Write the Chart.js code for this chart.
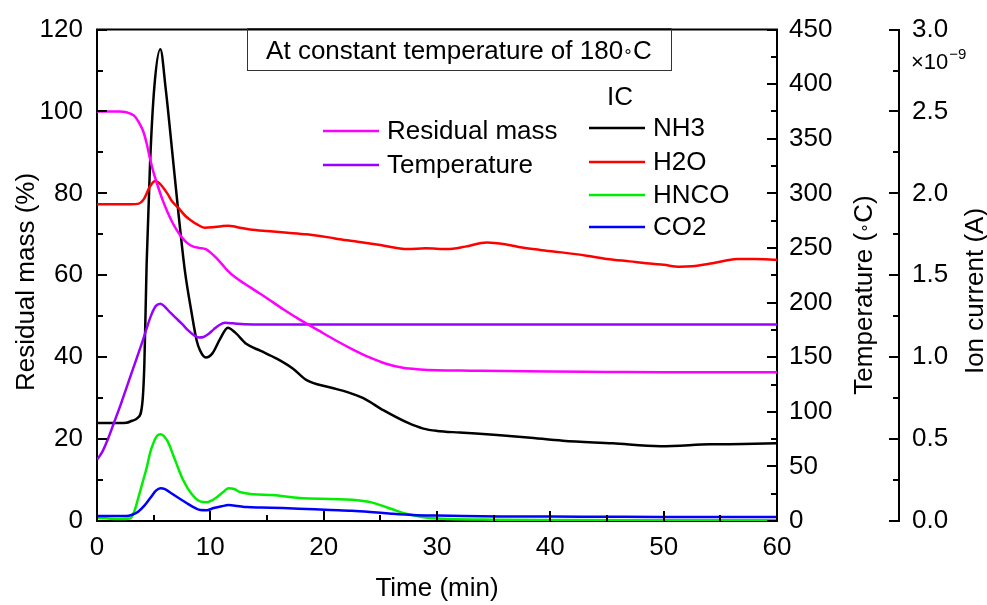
<!DOCTYPE html>
<html>
<head>
<meta charset="utf-8">
<script src="https://cdn.jsdelivr.net/npm/chart.js@4/dist/chart.umd.min.js"></script>
<style>
html,body{margin:0;padding:0;background:#fff;}
#wrap{width:987px;height:605px;}
</style>
</head>
<body>
<div id="wrap"><canvas id="c" width="987" height="605"></canvas></div>
<script>
// ---------------- data ----------------
const massTime = [0, 1, 2, 2.5, 3.0, 3.4, 3.8, 4.1, 4.4, 4.7, 5.0, 5.4, 5.8, 6.2, 6.6, 7.0, 7.5, 8.0, 8.5, 9.0, 9.6, 10.0, 10.5, 11.0, 11.5, 12.2, 13.0, 14.0, 15.0, 16.5, 18, 19.5, 21, 22.5, 24, 25.5, 27, 28.5, 30, 33, 36, 40, 45, 50, 55, 60];
const massValues = [100, 100, 100, 99.9, 99.4, 98.6, 96.8, 95, 92, 88.2, 85, 81.5, 78.3, 75.6, 73.2, 71.2, 69.2, 67.8, 67.0, 66.7, 66.4, 65.6, 64.3, 62.8, 61.2, 59.5, 58, 56.2, 54.4, 51.6, 49, 46.6, 44.2, 42, 40, 38.4, 37.4, 37, 36.8, 36.7, 36.6, 36.5, 36.4, 36.3, 36.3, 36.3];

const tempTime = [0, 0.5, 1.0, 1.5, 2.0, 2.5, 3.0, 3.5, 4.0, 4.4, 4.8, 5.2, 5.6, 6.0, 6.5, 7.0, 7.5, 8.0, 8.5, 9.0, 9.4, 9.8, 10.3, 10.8, 11.3, 12.0, 13.0, 15, 20, 30, 40, 50, 60];
const tempValues = [56, 64, 76, 90, 104, 119, 134, 149, 164, 177, 189, 197, 199, 196, 190.5, 185.5, 180.5, 175, 170.5, 168, 168.5, 171, 175.5, 179.5, 181.5, 181, 180.2, 180, 180, 180, 180, 180, 180];

const nh3Time = [0, 1, 2, 2.6, 3.1, 3.6, 4.0, 4.18, 4.38, 4.68, 5.06, 5.59, 6.06, 6.6, 7.2, 7.75, 8.35, 8.8, 9.1, 9.6, 10.2, 10.85, 11.55, 12.2, 13.2, 14.4, 15.9, 17.3, 18.5, 20.6, 22.1, 23.5, 25.3, 27.4, 28.8, 30, 32, 35.3, 38, 41.1, 45.5, 49.7, 54.1, 57, 60];
const nh3Values = [0.598, 0.598, 0.598, 0.6, 0.612, 0.63, 0.72, 0.96, 1.57, 2.18, 2.65, 2.88, 2.64, 2.28, 1.87, 1.53, 1.27, 1.1, 1.04, 0.998, 1.025, 1.11, 1.18, 1.15, 1.08, 1.04, 0.99, 0.93, 0.86, 0.815, 0.787, 0.75, 0.675, 0.6, 0.564, 0.55, 0.54, 0.525, 0.51, 0.49, 0.474, 0.457, 0.468, 0.47, 0.474];

const h2oTime = [0, 1, 2, 3, 3.6, 4.1, 4.7, 5.15, 5.6, 6.2, 6.6, 7.2, 7.8, 8.3, 8.8, 9.5, 10.2, 11.0, 11.6, 12.0, 12.6, 13.5, 15, 16.8, 18.5, 20.6, 21.4, 23, 25, 27.4, 29, 30.9, 32.5, 34.4, 36, 37.5, 39.1, 41, 43.2, 45, 47, 49, 50, 51.4, 52.5, 54, 55.5, 56.5, 58, 60];
const h2oValues = [1.934, 1.934, 1.934, 1.934, 1.936, 1.962, 2.045, 2.075, 2.055, 2.0, 1.954, 1.91, 1.862, 1.835, 1.812, 1.79, 1.793, 1.80, 1.803, 1.80, 1.79, 1.78, 1.77, 1.76, 1.75, 1.73, 1.72, 1.705, 1.685, 1.66, 1.665, 1.66, 1.675, 1.70, 1.69, 1.67, 1.655, 1.64, 1.62, 1.60, 1.585, 1.57, 1.564, 1.552, 1.555, 1.57, 1.59, 1.60, 1.60, 1.595];

const hncoTime = [0, 1, 2, 2.9, 3.3, 3.6, 4.0, 4.4, 4.7, 5.0, 5.3, 5.6, 6.2, 6.9, 7.6, 8.3, 9.1, 9.7, 10.2, 10.6, 11.1, 11.6, 12.1, 12.6, 13.8, 15.5, 17.9, 20.6, 22.5, 23.5, 24.3, 25, 26, 27, 28.2, 29.4, 31, 35, 40, 50, 60];
const hncoValues = [0.02, 0.015, 0.012, 0.015, 0.06, 0.13, 0.23, 0.33, 0.42, 0.48, 0.52, 0.53, 0.49, 0.37, 0.25, 0.17, 0.12, 0.115, 0.128, 0.146, 0.175, 0.2, 0.195, 0.177, 0.164, 0.158, 0.14, 0.134, 0.13, 0.122, 0.112, 0.097, 0.073, 0.049, 0.03, 0.018, 0.012, 0.008, 0.006, 0.005, 0.005];

const co2Time = [0, 1, 2, 2.6, 3.1, 3.6, 4.2, 4.7, 5.2, 5.6, 6.0, 6.4, 7.1, 7.9, 8.5, 9.1, 9.7, 10.3, 11.0, 11.6, 12.4, 13.2, 14.5, 16.4, 18.5, 20.6, 22.5, 24.1, 26, 27.9, 30, 32.3, 36, 40, 45, 50, 55, 60];
const co2Values = [0.03, 0.03, 0.03, 0.03, 0.038, 0.055, 0.095, 0.14, 0.185, 0.2, 0.195, 0.177, 0.145, 0.11, 0.085, 0.067, 0.066, 0.079, 0.09, 0.097, 0.092, 0.085, 0.082, 0.079, 0.073, 0.067, 0.062, 0.055, 0.045, 0.037, 0.033, 0.03, 0.028, 0.027, 0.026, 0.025, 0.025, 0.024];

const xTickValues = [0, 10, 20, 30, 40, 50, 60];
const massTickValues = [0, 20, 40, 60, 80, 100, 120];
const tempTickValues = [0, 50, 100, 150, 200, 250, 300, 350, 400, 450];
const ionTickLabels = ['0.0', '0.5', '1.0', '1.5', '2.0', '2.5', '3.0'];

const seriesNames = ['Residual mass', 'Temperature', 'NH3', 'H2O', 'HNCO', 'CO2'];
const seriesColors = ['#ff00ff', '#9900ff', '#000000', '#ff0000', '#00ee00', '#0000ff'];
const titleParts = ['At constant temperature of 180', '\u2218', 'C'];
const tempTitleParts = ['Temperature (', '\u2218', 'C)'];

// ---------------- helpers ----------------
const pts = (t, v) => t.map((x, i) => ({x: x, y: v[i]}));
const FONT = "'Liberation Sans', Arial, sans-serif";
Chart.defaults.font.family = FONT;
Chart.defaults.color = '#000';

const mkSet = (i, t, v, axis) => ({
  label: seriesNames[i], data: pts(t, v), yAxisID: axis,
  borderColor: seriesColors[i], backgroundColor: seriesColors[i],
  borderWidth: 2.5, pointRadius: 0, fill: false,
  cubicInterpolationMode: 'monotone'
});

// text made of pieces: main text + small ring (degree) + rest, centred on (0,0) in current transform
function drawDegreeText(ctx, parts, size) {
  const big = size + 'px ' + FONT, small = Math.round(size * 0.62) + 'px ' + FONT;
  ctx.font = big; const w0 = ctx.measureText(parts[0]).width; const w2 = ctx.measureText(parts[2]).width;
  ctx.font = small; const w1 = ctx.measureText(parts[1]).width;
  const total = w0 + w1 + w2;
  let x = -total / 2;
  const base = size * 0.36; // alphabetic baseline relative to visual middle
  ctx.textAlign = 'left'; ctx.textBaseline = 'alphabetic';
  ctx.font = big; ctx.fillText(parts[0], x, base); x += w0;
  ctx.font = small; ctx.fillText(parts[1], x, base - size * 0.1); x += w1;
  ctx.font = big; ctx.fillText(parts[2], x, base);
}

// inward tick marks (major + minor) drawn from the scales
const tickMarks = {
  id: 'tickMarks',
  afterDraw(chart) {
    const ctx = chart.ctx, a = chart.chartArea;
    ctx.save();
    ctx.strokeStyle = '#000';
    ctx.lineWidth = 2;
    const marks = (id, max, minorStep, majorEvery, fn) => {
      const s = chart.scales[id];
      const n = Math.round(max / minorStep);
      for (let k = 0; k <= n; k++) {
        const p = s.getPixelForValue(k * minorStep);
        const len = (k % majorEvery === 0) ? 10 : 6;
        ctx.beginPath(); fn(p, len, s); ctx.stroke();
      }
    };
    marks('x', 60, 5, 2, (p, l) => { ctx.moveTo(Math.round(p), a.bottom); ctx.lineTo(Math.round(p), a.bottom - l); });
    marks('y', 120, 10, 2, (p, l) => { ctx.moveTo(a.left, Math.round(p)); ctx.lineTo(a.left + l, Math.round(p)); });
    marks('yT', 450, 25, 2, (p, l, s) => { ctx.moveTo(s.left, Math.round(p)); ctx.lineTo(s.left - l, Math.round(p)); });
    marks('yI', 3, 0.25, 2, (p, l, s) => { ctx.moveTo(s.left, Math.round(p)); ctx.lineTo(s.left - l, Math.round(p)); });
    // top frame line
    ctx.beginPath(); ctx.moveTo(a.left - 1, a.top); ctx.lineTo(a.right + 1, a.top); ctx.stroke();
    ctx.restore();
  }
};

// axis titles, legend and title box
const annotations = {
  id: 'annotations',
  afterDraw(chart) {
    const ctx = chart.ctx;
    ctx.save();
    ctx.fillStyle = '#000';
    const vText = (txt, x, y) => {
      ctx.save(); ctx.translate(x, y); ctx.rotate(-Math.PI / 2);
      ctx.textAlign = 'center'; ctx.textBaseline = 'middle';
      ctx.font = '26px ' + FONT; ctx.fillText(txt, 0, 0); ctx.restore();
    };
    vText('Residual mass (%)', 27, 282);
    vText('Ion current (A)', 976, 291);
    ctx.save(); ctx.translate(863, 295); ctx.rotate(-Math.PI / 2);
    drawDegreeText(ctx, tempTitleParts, 26);
    ctx.restore();

    // multiplier of ion axis
    ctx.textAlign = 'left'; ctx.textBaseline = 'alphabetic';
    ctx.font = '22px ' + FONT;
    ctx.fillText('\u00d710', 911, 69);
    const wm = ctx.measureText('\u00d710').width;
    ctx.font = '15px ' + FONT;
    ctx.fillText('\u22129', 911 + wm + 1, 59);

    // title box
    ctx.strokeStyle = '#333'; ctx.lineWidth = 1;
    ctx.strokeRect(247.5, 28.5, 424, 42);
    ctx.save(); ctx.translate(459, 50);
    drawDegreeText(ctx, titleParts, 26);
    ctx.restore();

    // legend
    ctx.font = '26px ' + FONT; ctx.textAlign = 'left'; ctx.textBaseline = 'middle';
    const item = (i, x1, y) => {
      ctx.strokeStyle = seriesColors[i]; ctx.lineWidth = 2.5;
      ctx.beginPath(); ctx.moveTo(x1, y); ctx.lineTo(x1 + 56, y); ctx.stroke();
      ctx.fillText(seriesNames[i], x1 + 64, y + 1);
    };
    item(0, 323, 131);
    item(1, 323, 165);
    ctx.fillText('IC', 607, 98);
    item(2, 589, 128);
    item(3, 589, 162);
    item(4, 589, 195);
    item(5, 589, 227);
    ctx.restore();
  }
};

const tickFont = {size: 26, family: FONT};

new Chart(document.getElementById('c'), {
  type: 'line',
  data: {
    datasets: [
      mkSet(0, massTime, massValues, 'y'),
      mkSet(1, tempTime, tempValues, 'yT'),
      mkSet(3, h2oTime, h2oValues, 'yI'),
      mkSet(5, co2Time, co2Values, 'yI'),
      mkSet(4, hncoTime, hncoValues, 'yI'),
      mkSet(2, nh3Time, nh3Values, 'yI')
    ]
  },
  options: {
    responsive: false,
    animation: false,
    devicePixelRatio: 1,
    layout: {padding: {top: 28, left: 0, right: 0, bottom: 0}},
    plugins: {legend: {display: false}, tooltip: {enabled: false}},
    scales: {
      x: {
        type: 'linear', position: 'bottom', min: 0, max: 60,
        afterFit: s => { s.height = 84; },
        afterBuildTicks: s => { s.ticks = xTickValues.map(v => ({value: v})); },
        ticks: {font: tickFont, padding: 11, autoSkip: false, maxRotation: 0},
        grid: {drawOnChartArea: false, drawTicks: false},
        border: {display: true, color: '#000', width: 2},
        title: {display: true, text: 'Time (min)', font: {size: 26, family: FONT}, padding: {top: 0, bottom: 1}}
      },
      y: {
        type: 'linear', position: 'left', min: 0, max: 120,
        afterFit: s => { s.width = 97; },
        afterBuildTicks: s => { s.ticks = massTickValues.map(v => ({value: v})); },
        ticks: {font: tickFont, padding: 14, autoSkip: false},
        grid: {drawOnChartArea: false, drawTicks: false},
        border: {display: true, color: '#000', width: 2}
      },
      yT: {
        type: 'linear', position: 'right', min: 0, max: 450,
        afterFit: s => { s.width = 122; },
        afterBuildTicks: s => { s.ticks = tempTickValues.map(v => ({value: v})); },
        ticks: {font: tickFont, padding: 12, autoSkip: false},
        grid: {drawOnChartArea: false, drawTicks: false},
        border: {display: true, color: '#000', width: 2}
      },
      yI: {
        type: 'linear', position: 'right', min: 0, max: 3,
        afterFit: s => { s.width = 88; },
        afterBuildTicks: s => { s.ticks = ionTickLabels.map(v => ({value: parseFloat(v)})); },
        ticks: {font: tickFont, padding: 13, autoSkip: false, callback: (v, i) => ionTickLabels[i]},
        grid: {drawOnChartArea: false, drawTicks: false},
        border: {display: true, color: '#000', width: 2}
      }
    }
  },
  plugins: [tickMarks, annotations]
});
</script>
</body>
</html>
